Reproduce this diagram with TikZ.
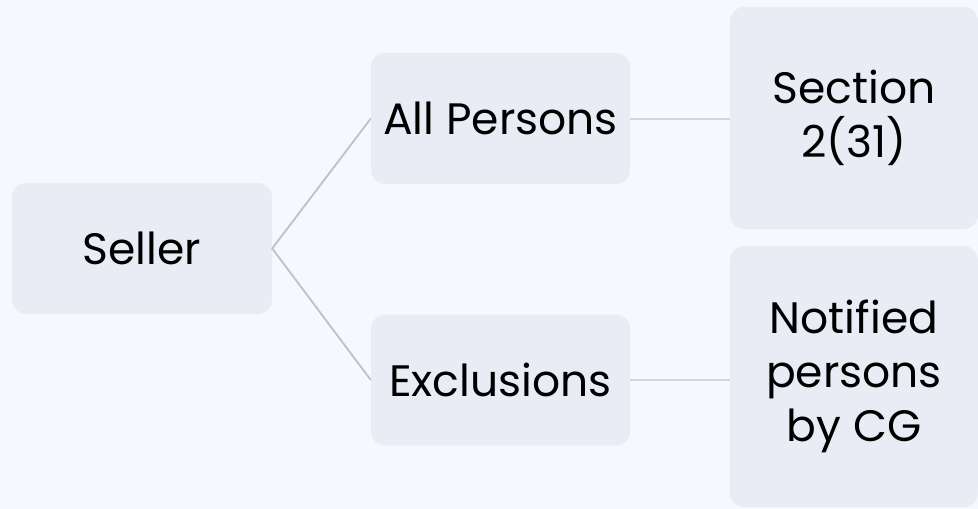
\documentclass[tikz,border=0pt]{standalone}
\usepackage{fontspec}
\setmainfont{Poppins}
\usetikzlibrary{positioning}
\definecolor{sfondo}{HTML}{F6F8FD}
\definecolor{riempi}{HTML}{E9ECF5}
\definecolor{linea}{HTML}{BFC1C7}
\definecolor{lineachiara}{HTML}{D3D6DE}
\tikzset{
  scatola/.style={fill=riempi, rounded corners=14pt, inner sep=0pt, align=center,
    font=\fontsize{44}{54}\selectfont, text=black},
}

\begin{document}
\begin{tikzpicture}[x=1pt, y=-1pt]
    % Sfondo
    \fill[sfondo] (0,0) rectangle (978,509);
    \useasboundingbox (0,0) rectangle (978,509);
    % Scatole
    \node[scatola, minimum width=260pt, minimum height=131pt] (seller) at (142,248.5) {Seller};
    \node[scatola, minimum width=259pt, minimum height=131pt] (allp) at (500.5,118.5) {All Persons};
    \node[scatola, minimum width=259pt, minimum height=131pt] (excl) at (500.5,380) {Exclusions};
    \node[scatola, minimum width=248pt, minimum height=222pt] (sect) at (854,118) {Section\\2(31)};
    \node[scatola, minimum width=248pt, minimum height=261pt] (notif) at (854,376.5) {Notified\\persons\\by CG};
    % Linee
    \draw[linea, line width=1.8pt] (allp.west) -- (seller.east) -- (excl.west);
    \draw[lineachiara, line width=2pt] (allp.east) -- (allp.east -| sect.west);
    \draw[lineachiara, line width=2pt] (excl.east) -- (excl.east -| notif.west);
\end{tikzpicture}
\end{document}
